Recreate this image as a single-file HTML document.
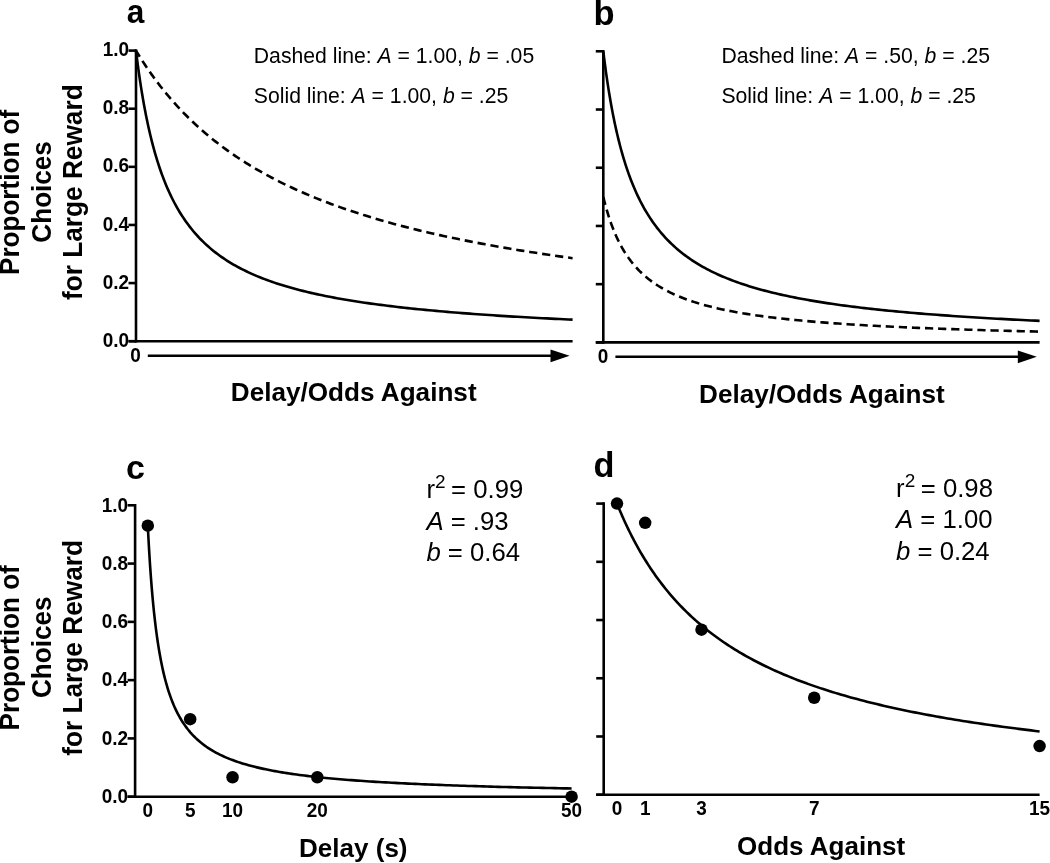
<!DOCTYPE html>
<html lang="en"><head><meta charset="utf-8"><title>Figure</title>
<style>html,body{margin:0;padding:0;background:#fff}svg{display:block}</style></head>
<body>
<svg width="1050" height="863" viewBox="0 0 1050 863" font-family="Liberation Sans, sans-serif" fill="#000">
<rect width="1050" height="863" fill="#fff"/>
<line x1="136" y1="49.300000000000004" x2="136" y2="342.5" stroke="#000" stroke-width="2.6"/>
<line x1="128.5" y1="50.6" x2="136" y2="50.6" stroke="#000" stroke-width="2.6"/>
<text transform="translate(129.0,56) scale(0.925,1)" font-size="20.5" font-weight="bold" text-anchor="end">1.0</text>
<line x1="128.5" y1="108.72" x2="136" y2="108.72" stroke="#000" stroke-width="2.6"/>
<text transform="translate(129.0,114) scale(0.925,1)" font-size="20.5" font-weight="bold" text-anchor="end">0.8</text>
<line x1="128.5" y1="166.84" x2="136" y2="166.84" stroke="#000" stroke-width="2.6"/>
<text transform="translate(129.0,172) scale(0.925,1)" font-size="20.5" font-weight="bold" text-anchor="end">0.6</text>
<line x1="128.5" y1="224.96" x2="136" y2="224.96" stroke="#000" stroke-width="2.6"/>
<text transform="translate(129.0,231) scale(0.925,1)" font-size="20.5" font-weight="bold" text-anchor="end">0.4</text>
<line x1="128.5" y1="283.08" x2="136" y2="283.08" stroke="#000" stroke-width="2.6"/>
<text transform="translate(129.0,289) scale(0.925,1)" font-size="20.5" font-weight="bold" text-anchor="end">0.2</text>
<line x1="128.5" y1="341.2" x2="136" y2="341.2" stroke="#000" stroke-width="2.6"/>
<text transform="translate(129.0,347) scale(0.925,1)" font-size="20.5" font-weight="bold" text-anchor="end">0.0</text>
<line x1="128.5" y1="341.2" x2="572.6" y2="341.2" stroke="#000" stroke-width="2.6"/>
<path d="M136.00,50.60 L136.01,50.69 L136.04,50.97 L136.10,51.42 L136.18,52.06 L136.28,52.88 L136.40,53.87 L136.54,55.03 L136.71,56.35 L136.89,57.84 L137.10,59.49 L137.33,61.29 L137.59,63.23 L137.86,65.32 L138.16,67.53 L138.48,69.87 L138.82,72.33 L139.19,74.89 L139.57,77.56 L139.98,80.33 L140.41,83.18 L140.86,86.11 L141.34,89.11 L141.83,92.18 L142.35,95.31 L142.89,98.48 L143.45,101.70 L144.04,104.96 L144.64,108.25 L145.27,111.56 L145.92,114.89 L146.60,118.23 L147.29,121.58 L148.01,124.94 L148.74,128.29 L149.51,131.63 L150.29,134.97 L151.09,138.28 L151.92,141.58 L152.77,144.86 L153.64,148.12 L154.53,151.34 L155.45,154.54 L156.39,157.70 L157.34,160.83 L158.33,163.92 L159.33,166.97 L160.35,169.98 L161.40,172.96 L162.47,175.89 L163.56,178.77 L164.68,181.62 L165.81,184.42 L166.97,187.17 L168.15,189.88 L169.35,192.54 L170.57,195.16 L171.82,197.73 L173.09,200.26 L174.38,202.74 L175.69,205.17 L177.02,207.56 L178.38,209.91 L179.76,212.21 L181.16,214.46 L182.58,216.67 L184.02,218.84 L185.49,220.97 L186.98,223.05 L188.49,225.09 L190.02,227.09 L191.58,229.05 L193.15,230.97 L194.75,232.85 L196.37,234.69 L198.02,236.50 L199.68,238.27 L201.37,240.00 L203.08,241.69 L204.81,243.35 L206.56,244.98 L208.33,246.57 L210.13,248.13 L211.95,249.66 L213.79,251.15 L215.66,252.62 L217.54,254.05 L219.45,255.46 L221.38,256.83 L223.33,258.18 L225.30,259.50 L227.30,260.79 L229.32,262.05 L231.36,263.29 L233.42,264.51 L235.50,265.69 L237.61,266.86 L239.73,268.00 L241.88,269.12 L244.06,270.21 L246.25,271.29 L248.47,272.34 L250.70,273.37 L252.96,274.38 L255.25,275.36 L257.55,276.33 L259.88,277.28 L262.22,278.22 L264.60,279.13 L266.99,280.02 L269.40,280.90 L271.84,281.76 L274.30,282.61 L276.78,283.43 L279.28,284.24 L281.81,285.04 L284.35,285.82 L286.92,286.59 L289.51,287.34 L292.12,288.07 L294.76,288.80 L297.42,289.50 L300.10,290.20 L302.80,290.88 L305.52,291.55 L308.27,292.21 L311.03,292.86 L313.82,293.49 L316.63,294.11 L319.47,294.72 L322.32,295.32 L325.20,295.91 L328.10,296.49 L331.02,297.06 L333.96,297.62 L336.93,298.17 L339.92,298.70 L342.93,299.23 L345.96,299.75 L349.01,300.26 L352.09,300.76 L355.19,301.26 L358.31,301.74 L361.45,302.22 L364.61,302.69 L367.80,303.15 L371.01,303.60 L374.24,304.04 L377.49,304.48 L380.77,304.91 L384.06,305.33 L387.38,305.75 L390.72,306.16 L394.08,306.56 L397.47,306.96 L400.88,307.34 L404.30,307.73 L407.75,308.10 L411.23,308.47 L414.72,308.84 L418.24,309.20 L421.78,309.55 L425.34,309.90 L428.92,310.24 L432.53,310.58 L436.15,310.91 L439.80,311.24 L443.48,311.56 L447.17,311.87 L450.88,312.18 L454.62,312.49 L458.38,312.79 L462.16,313.09 L465.97,313.38 L469.79,313.67 L473.64,313.96 L477.51,314.24 L481.40,314.51 L485.32,314.78 L489.25,315.05 L493.21,315.32 L497.19,315.58 L501.19,315.83 L505.22,316.08 L509.26,316.33 L513.33,316.58 L517.42,316.82 L521.53,317.06 L525.67,317.29 L529.82,317.53 L534.00,317.75 L538.20,317.98 L542.42,318.20 L546.67,318.42 L550.94,318.64 L555.22,318.85 L559.54,319.06 L563.87,319.27 L568.22,319.47 L572.60,319.67" fill="none" stroke="#000" stroke-width="2.6"/>
<path d="M136.00,50.60 L136.01,50.62 L136.04,50.67 L136.10,50.77 L136.18,50.89 L136.28,51.06 L136.40,51.26 L136.54,51.50 L136.71,51.77 L136.89,52.08 L137.10,52.42 L137.33,52.80 L137.59,53.22 L137.86,53.67 L138.16,54.15 L138.48,54.67 L138.82,55.22 L139.19,55.81 L139.57,56.42 L139.98,57.08 L140.41,57.76 L140.86,58.47 L141.34,59.22 L141.83,59.99 L142.35,60.80 L142.89,61.63 L143.45,62.49 L144.04,63.39 L144.64,64.30 L145.27,65.25 L145.92,66.22 L146.60,67.22 L147.29,68.25 L148.01,69.29 L148.74,70.36 L149.51,71.46 L150.29,72.58 L151.09,73.72 L151.92,74.88 L152.77,76.06 L153.64,77.26 L154.53,78.48 L155.45,79.72 L156.39,80.98 L157.34,82.25 L158.33,83.54 L159.33,84.84 L160.35,86.17 L161.40,87.50 L162.47,88.85 L163.56,90.21 L164.68,91.59 L165.81,92.97 L166.97,94.37 L168.15,95.78 L169.35,97.20 L170.57,98.62 L171.82,100.06 L173.09,101.50 L174.38,102.96 L175.69,104.41 L177.02,105.88 L178.38,107.35 L179.76,108.82 L181.16,110.30 L182.58,111.79 L184.02,113.28 L185.49,114.77 L186.98,116.26 L188.49,117.76 L190.02,119.26 L191.58,120.75 L193.15,122.25 L194.75,123.75 L196.37,125.25 L198.02,126.75 L199.68,128.25 L201.37,129.75 L203.08,131.24 L204.81,132.73 L206.56,134.22 L208.33,135.71 L210.13,137.20 L211.95,138.68 L213.79,140.15 L215.66,141.63 L217.54,143.10 L219.45,144.56 L221.38,146.02 L223.33,147.47 L225.30,148.92 L227.30,150.36 L229.32,151.80 L231.36,153.23 L233.42,154.66 L235.50,156.07 L237.61,157.49 L239.73,158.89 L241.88,160.29 L244.06,161.68 L246.25,163.06 L248.47,164.43 L250.70,165.80 L252.96,167.16 L255.25,168.51 L257.55,169.86 L259.88,171.19 L262.22,172.52 L264.60,173.84 L266.99,175.15 L269.40,176.45 L271.84,177.74 L274.30,179.03 L276.78,180.30 L279.28,181.57 L281.81,182.83 L284.35,184.07 L286.92,185.31 L289.51,186.54 L292.12,187.77 L294.76,188.98 L297.42,190.18 L300.10,191.38 L302.80,192.56 L305.52,193.74 L308.27,194.91 L311.03,196.06 L313.82,197.21 L316.63,198.35 L319.47,199.48 L322.32,200.60 L325.20,201.71 L328.10,202.82 L331.02,203.91 L333.96,205.00 L336.93,206.07 L339.92,207.14 L342.93,208.20 L345.96,209.24 L349.01,210.28 L352.09,211.31 L355.19,212.34 L358.31,213.35 L361.45,214.35 L364.61,215.35 L367.80,216.33 L371.01,217.31 L374.24,218.28 L377.49,219.24 L380.77,220.19 L384.06,221.14 L387.38,222.07 L390.72,223.00 L394.08,223.92 L397.47,224.83 L400.88,225.73 L404.30,226.62 L407.75,227.51 L411.23,228.39 L414.72,229.26 L418.24,230.12 L421.78,230.97 L425.34,231.82 L428.92,232.66 L432.53,233.49 L436.15,234.31 L439.80,235.13 L443.48,235.93 L447.17,236.73 L450.88,237.53 L454.62,238.31 L458.38,239.09 L462.16,239.86 L465.97,240.63 L469.79,241.38 L473.64,242.13 L477.51,242.88 L481.40,243.61 L485.32,244.34 L489.25,245.06 L493.21,245.78 L497.19,246.49 L501.19,247.19 L505.22,247.88 L509.26,248.57 L513.33,249.26 L517.42,249.93 L521.53,250.60 L525.67,251.27 L529.82,251.92 L534.00,252.57 L538.20,253.22 L542.42,253.86 L546.67,254.49 L550.94,255.12 L555.22,255.74 L559.54,256.36 L563.87,256.97 L568.22,257.57 L572.60,258.17" fill="none" stroke="#000" stroke-width="2.6" stroke-dasharray="8.2,4.9" stroke-dashoffset="1.0"/>
<line x1="147.8" y1="355.8" x2="552" y2="355.8" stroke="#000" stroke-width="2.6"/>
<polygon points="550.5,349.4 569.6,355.8 550.5,362.2"/>
<text transform="translate(135.6,362) scale(0.925,1)" font-size="20.5" font-weight="bold" text-anchor="middle">0</text>
<text transform="translate(126.7,23) scale(0.93,1)" font-size="34" font-weight="bold" text-anchor="start">a</text>
<text x="253.8" y="63" font-size="21.2" font-weight="normal" text-anchor="start">Dashed line: <tspan font-style="italic">A</tspan> = 1.00, <tspan font-style="italic">b</tspan> = .05</text>
<text x="253.8" y="103" font-size="21.2" font-weight="normal" text-anchor="start">Solid line: <tspan font-style="italic">A</tspan> = 1.00, <tspan font-style="italic">b</tspan> = .25</text>
<text transform="translate(353.7,401) scale(0.99,1)" font-size="26.4" font-weight="bold" text-anchor="middle">Delay/Odds Against</text>
<text transform="translate(19.0,192.4) rotate(-90) scale(0.96,1)" font-size="27.19" font-weight="bold" text-anchor="middle">Proportion of</text>
<text transform="translate(50.8,191.9) rotate(-90) scale(0.96,1)" font-size="27.19" font-weight="bold" text-anchor="middle">Choices</text>
<text transform="translate(82.0,192.2) rotate(-90) scale(0.96,1)" font-size="27.34" font-weight="bold" text-anchor="middle">for Large Reward</text>
<line x1="603.3" y1="50.0" x2="603.3" y2="343.7" stroke="#000" stroke-width="2.6"/>
<line x1="595.8" y1="51.3" x2="603.3" y2="51.3" stroke="#000" stroke-width="2.6"/>
<line x1="595.8" y1="109.52" x2="603.3" y2="109.52" stroke="#000" stroke-width="2.6"/>
<line x1="595.8" y1="167.74" x2="603.3" y2="167.74" stroke="#000" stroke-width="2.6"/>
<line x1="595.8" y1="225.96" x2="603.3" y2="225.96" stroke="#000" stroke-width="2.6"/>
<line x1="595.8" y1="284.18" x2="603.3" y2="284.18" stroke="#000" stroke-width="2.6"/>
<line x1="595.8" y1="342.4" x2="603.3" y2="342.4" stroke="#000" stroke-width="2.6"/>
<line x1="595.8" y1="342.4" x2="1039.6" y2="342.4" stroke="#000" stroke-width="2.6"/>
<path d="M603.30,51.30 L603.31,51.39 L603.34,51.67 L603.40,52.12 L603.48,52.76 L603.58,53.58 L603.70,54.57 L603.84,55.73 L604.01,57.06 L604.19,58.56 L604.40,60.21 L604.63,62.01 L604.89,63.96 L605.16,66.04 L605.46,68.26 L605.78,70.60 L606.12,73.06 L606.48,75.63 L606.87,78.31 L607.28,81.08 L607.71,83.93 L608.16,86.87 L608.63,89.88 L609.13,92.95 L609.65,96.08 L610.19,99.27 L610.75,102.49 L611.33,105.75 L611.94,109.05 L612.57,112.37 L613.22,115.70 L613.89,119.05 L614.58,122.41 L615.30,125.77 L616.04,129.12 L616.80,132.47 L617.58,135.81 L618.38,139.14 L619.21,142.44 L620.06,145.72 L620.93,148.98 L621.82,152.21 L622.73,155.41 L623.67,158.58 L624.63,161.72 L625.61,164.81 L626.61,167.87 L627.64,170.89 L628.68,173.87 L629.75,176.80 L630.84,179.69 L631.96,182.54 L633.09,185.35 L634.25,188.11 L635.43,190.82 L636.63,193.49 L637.85,196.11 L639.10,198.69 L640.36,201.22 L641.65,203.70 L642.96,206.14 L644.30,208.53 L645.65,210.88 L647.03,213.18 L648.43,215.44 L649.85,217.66 L651.29,219.83 L652.76,221.96 L654.24,224.05 L655.75,226.09 L657.29,228.09 L658.84,230.06 L660.41,231.98 L662.01,233.87 L663.63,235.71 L665.27,237.52 L666.94,239.29 L668.62,241.02 L670.33,242.72 L672.06,244.39 L673.81,246.01 L675.59,247.61 L677.38,249.17 L679.20,250.70 L681.04,252.20 L682.90,253.67 L684.78,255.10 L686.69,256.51 L688.62,257.89 L690.57,259.23 L692.54,260.56 L694.54,261.85 L696.55,263.12 L698.59,264.36 L700.65,265.57 L702.73,266.76 L704.84,267.93 L706.96,269.07 L709.11,270.19 L711.28,271.29 L713.47,272.36 L715.69,273.42 L717.93,274.45 L720.18,275.46 L722.46,276.45 L724.77,277.42 L727.09,278.37 L729.44,279.31 L731.81,280.22 L734.20,281.12 L736.61,282.00 L739.05,282.86 L741.50,283.70 L743.98,284.53 L746.48,285.35 L749.01,286.14 L751.55,286.92 L754.12,287.69 L756.71,288.44 L759.32,289.18 L761.95,289.91 L764.61,290.62 L767.28,291.31 L769.98,292.00 L772.70,292.67 L775.45,293.33 L778.21,293.97 L781.00,294.61 L783.81,295.23 L786.64,295.84 L789.49,296.45 L792.37,297.04 L795.27,297.61 L798.19,298.18 L801.13,298.74 L804.09,299.29 L807.08,299.83 L810.09,300.36 L813.12,300.88 L816.17,301.39 L819.24,301.89 L822.34,302.39 L825.45,302.87 L828.59,303.35 L831.76,303.82 L834.94,304.28 L838.15,304.73 L841.37,305.18 L844.63,305.62 L847.90,306.05 L851.19,306.47 L854.51,306.89 L857.85,307.30 L861.21,307.70 L864.59,308.10 L867.99,308.49 L871.42,308.87 L874.87,309.25 L878.34,309.62 L881.83,309.98 L885.35,310.34 L888.88,310.70 L892.44,311.04 L896.02,311.39 L899.62,311.72 L903.25,312.06 L906.90,312.38 L910.56,312.71 L914.26,313.02 L917.97,313.33 L921.70,313.64 L925.46,313.94 L929.24,314.24 L933.04,314.54 L936.86,314.82 L940.71,315.11 L944.57,315.39 L948.46,315.67 L952.38,315.94 L956.31,316.21 L960.26,316.47 L964.24,316.73 L968.24,316.99 L972.26,317.24 L976.31,317.49 L980.37,317.74 L984.46,317.98 L988.57,318.22 L992.70,318.45 L996.85,318.69 L1001.03,318.91 L1005.23,319.14 L1009.45,319.36 L1013.69,319.58 L1017.95,319.80 L1022.24,320.01 L1026.54,320.22 L1030.87,320.43 L1035.23,320.64 L1039.60,320.84" fill="none" stroke="#000" stroke-width="2.6"/>
<path d="M603.30,196.85 L603.31,196.90 L603.34,197.03 L603.40,197.26 L603.48,197.58 L603.58,197.99 L603.70,198.49 L603.84,199.07 L604.01,199.73 L604.19,200.48 L604.40,201.30 L604.63,202.20 L604.89,203.18 L605.16,204.22 L605.46,205.33 L605.78,206.50 L606.12,207.73 L606.48,209.02 L606.87,210.35 L607.28,211.74 L607.71,213.17 L608.16,214.64 L608.63,216.14 L609.13,217.68 L609.65,219.24 L610.19,220.83 L610.75,222.45 L611.33,224.08 L611.94,225.72 L612.57,227.38 L613.22,229.05 L613.89,230.73 L614.58,232.40 L615.30,234.08 L616.04,235.76 L616.80,237.44 L617.58,239.11 L618.38,240.77 L619.21,242.42 L620.06,244.06 L620.93,245.69 L621.82,247.31 L622.73,248.91 L623.67,250.49 L624.63,252.06 L625.61,253.61 L626.61,255.14 L627.64,256.64 L628.68,258.13 L629.75,259.60 L630.84,261.05 L631.96,262.47 L633.09,263.87 L634.25,265.25 L635.43,266.61 L636.63,267.94 L637.85,269.25 L639.10,270.54 L640.36,271.81 L641.65,273.05 L642.96,274.27 L644.30,275.47 L645.65,276.64 L647.03,277.79 L648.43,278.92 L649.85,280.03 L651.29,281.11 L652.76,282.18 L654.24,283.22 L655.75,284.25 L657.29,285.25 L658.84,286.23 L660.41,287.19 L662.01,288.13 L663.63,289.06 L665.27,289.96 L666.94,290.84 L668.62,291.71 L670.33,292.56 L672.06,293.39 L673.81,294.21 L675.59,295.00 L677.38,295.79 L679.20,296.55 L681.04,297.30 L682.90,298.03 L684.78,298.75 L686.69,299.45 L688.62,300.14 L690.57,300.82 L692.54,301.48 L694.54,302.12 L696.55,302.76 L698.59,303.38 L700.65,303.99 L702.73,304.58 L704.84,305.17 L706.96,305.74 L709.11,306.30 L711.28,306.85 L713.47,307.38 L715.69,307.91 L717.93,308.42 L720.18,308.93 L722.46,309.43 L724.77,309.91 L727.09,310.39 L729.44,310.85 L731.81,311.31 L734.20,311.76 L736.61,312.20 L739.05,312.63 L741.50,313.05 L743.98,313.47 L746.48,313.87 L749.01,314.27 L751.55,314.66 L754.12,315.05 L756.71,315.42 L759.32,315.79 L761.95,316.15 L764.61,316.51 L767.28,316.86 L769.98,317.20 L772.70,317.53 L775.45,317.86 L778.21,318.19 L781.00,318.50 L783.81,318.82 L786.64,319.12 L789.49,319.42 L792.37,319.72 L795.27,320.01 L798.19,320.29 L801.13,320.57 L804.09,320.85 L807.08,321.12 L810.09,321.38 L813.12,321.64 L816.17,321.90 L819.24,322.15 L822.34,322.39 L825.45,322.64 L828.59,322.88 L831.76,323.11 L834.94,323.34 L838.15,323.57 L841.37,323.79 L844.63,324.01 L847.90,324.22 L851.19,324.44 L854.51,324.64 L857.85,324.85 L861.21,325.05 L864.59,325.25 L867.99,325.44 L871.42,325.63 L874.87,325.82 L878.34,326.01 L881.83,326.19 L885.35,326.37 L888.88,326.55 L892.44,326.72 L896.02,326.89 L899.62,327.06 L903.25,327.23 L906.90,327.39 L910.56,327.55 L914.26,327.71 L917.97,327.87 L921.70,328.02 L925.46,328.17 L929.24,328.32 L933.04,328.47 L936.86,328.61 L940.71,328.75 L944.57,328.90 L948.46,329.03 L952.38,329.17 L956.31,329.30 L960.26,329.44 L964.24,329.57 L968.24,329.69 L972.26,329.82 L976.31,329.95 L980.37,330.07 L984.46,330.19 L988.57,330.31 L992.70,330.43 L996.85,330.54 L1001.03,330.66 L1005.23,330.77 L1009.45,330.88 L1013.69,330.99 L1017.95,331.10 L1022.24,331.21 L1026.54,331.31 L1030.87,331.42 L1035.23,331.52 L1039.60,331.62" fill="none" stroke="#000" stroke-width="2.6" stroke-dasharray="8.2,4.9" stroke-dashoffset="0"/>
<line x1="615.4" y1="356.8" x2="1019" y2="356.8" stroke="#000" stroke-width="2.6"/>
<polygon points="1017.8,350.4 1036.8,356.8 1017.8,363.2"/>
<text transform="translate(603,363) scale(0.925,1)" font-size="20.5" font-weight="bold" text-anchor="middle">0</text>
<text x="593.5" y="25" font-size="34.5" font-weight="bold" text-anchor="start">b</text>
<text x="721.4" y="63" font-size="21.2" font-weight="normal" text-anchor="start">Dashed line: <tspan font-style="italic">A</tspan> = .50, <tspan font-style="italic">b</tspan> = .25</text>
<text x="721.4" y="103" font-size="21.2" font-weight="normal" text-anchor="start">Solid line: <tspan font-style="italic">A</tspan> = 1.00, <tspan font-style="italic">b</tspan> = .25</text>
<text transform="translate(821.9,403) scale(0.99,1)" font-size="26.4" font-weight="bold" text-anchor="middle">Delay/Odds Against</text>
<line x1="135.1" y1="504.0" x2="135.1" y2="798.0" stroke="#000" stroke-width="2.6"/>
<line x1="127.6" y1="505.3" x2="135.1" y2="505.3" stroke="#000" stroke-width="2.6"/>
<text transform="translate(128.1,512) scale(0.925,1)" font-size="20.5" font-weight="bold" text-anchor="end">1.0</text>
<line x1="127.6" y1="563.58" x2="135.1" y2="563.58" stroke="#000" stroke-width="2.6"/>
<text transform="translate(128.1,570) scale(0.925,1)" font-size="20.5" font-weight="bold" text-anchor="end">0.8</text>
<line x1="127.6" y1="621.86" x2="135.1" y2="621.86" stroke="#000" stroke-width="2.6"/>
<text transform="translate(128.1,628) scale(0.925,1)" font-size="20.5" font-weight="bold" text-anchor="end">0.6</text>
<line x1="127.6" y1="680.14" x2="135.1" y2="680.14" stroke="#000" stroke-width="2.6"/>
<text transform="translate(128.1,686) scale(0.925,1)" font-size="20.5" font-weight="bold" text-anchor="end">0.4</text>
<line x1="127.6" y1="738.42" x2="135.1" y2="738.42" stroke="#000" stroke-width="2.6"/>
<text transform="translate(128.1,745) scale(0.925,1)" font-size="20.5" font-weight="bold" text-anchor="end">0.2</text>
<line x1="127.6" y1="796.7" x2="135.1" y2="796.7" stroke="#000" stroke-width="2.6"/>
<text transform="translate(128.1,803) scale(0.925,1)" font-size="20.5" font-weight="bold" text-anchor="end">0.0</text>
<line x1="127.6" y1="796.7" x2="571.6" y2="796.7" stroke="#000" stroke-width="2.6"/>
<path d="M147.80,525.70 L147.81,525.92 L147.84,526.57 L147.90,527.65 L147.97,529.16 L148.07,531.06 L148.19,533.36 L148.32,536.02 L148.48,539.02 L148.67,542.35 L148.87,545.96 L149.09,549.84 L149.34,553.95 L149.61,558.26 L149.90,562.75 L150.21,567.39 L150.54,572.15 L150.89,577.00 L151.27,581.93 L151.66,586.90 L152.08,591.90 L152.52,596.90 L152.98,601.89 L153.46,606.85 L153.96,611.77 L154.49,616.64 L155.03,621.44 L155.60,626.16 L156.19,630.80 L156.80,635.35 L157.43,639.80 L158.08,644.16 L158.76,648.41 L159.45,652.55 L160.17,656.58 L160.91,660.51 L161.67,664.33 L162.45,668.03 L163.25,671.63 L164.08,675.12 L164.92,678.51 L165.79,681.79 L166.68,684.97 L167.59,688.04 L168.52,691.02 L169.47,693.90 L170.44,696.69 L171.44,699.39 L172.46,702.00 L173.49,704.53 L174.55,706.97 L175.64,709.33 L176.74,711.61 L177.86,713.82 L179.01,715.96 L180.17,718.02 L181.36,720.02 L182.57,721.95 L183.80,723.82 L185.05,725.62 L186.33,727.37 L187.62,729.06 L188.94,730.70 L190.28,732.29 L191.63,733.82 L193.01,735.30 L194.42,736.74 L195.84,738.14 L197.28,739.48 L198.75,740.79 L200.24,742.06 L201.75,743.28 L203.28,744.47 L204.83,745.63 L206.40,746.75 L208.00,747.83 L209.61,748.88 L211.25,749.90 L212.91,750.89 L214.59,751.86 L216.29,752.79 L218.01,753.70 L219.76,754.58 L221.52,755.43 L223.31,756.26 L225.12,757.07 L226.95,757.85 L228.80,758.62 L230.67,759.36 L232.57,760.08 L234.48,760.78 L236.42,761.47 L238.38,762.13 L240.36,762.78 L242.36,763.41 L244.38,764.02 L246.43,764.62 L248.49,765.20 L250.58,765.77 L252.69,766.32 L254.82,766.86 L256.97,767.38 L259.14,767.89 L261.33,768.39 L263.55,768.88 L265.79,769.35 L268.04,769.81 L270.32,770.26 L272.63,770.71 L274.95,771.14 L277.29,771.55 L279.66,771.96 L282.04,772.37 L284.45,772.76 L286.88,773.14 L289.33,773.51 L291.80,773.88 L294.30,774.23 L296.81,774.58 L299.35,774.92 L301.91,775.25 L304.48,775.58 L307.08,775.90 L309.71,776.21 L312.35,776.51 L315.01,776.81 L317.70,777.10 L320.41,777.39 L323.14,777.67 L325.89,777.94 L328.66,778.21 L331.45,778.47 L334.27,778.73 L337.10,778.98 L339.96,779.23 L342.84,779.47 L345.74,779.70 L348.66,779.94 L351.60,780.16 L354.57,780.39 L357.55,780.61 L360.56,780.82 L363.59,781.03 L366.64,781.24 L369.71,781.44 L372.80,781.64 L375.92,781.83 L379.05,782.02 L382.21,782.21 L385.39,782.39 L388.59,782.57 L391.81,782.75 L395.05,782.92 L398.32,783.09 L401.60,783.26 L404.91,783.42 L408.24,783.59 L411.59,783.74 L414.96,783.90 L418.35,784.05 L421.76,784.20 L425.20,784.35 L428.66,784.50 L432.13,784.64 L435.63,784.78 L439.16,784.92 L442.70,785.05 L446.26,785.19 L449.85,785.32 L453.45,785.45 L457.08,785.57 L460.73,785.70 L464.40,785.82 L468.09,785.94 L471.81,786.06 L475.54,786.17 L479.30,786.29 L483.08,786.40 L486.87,786.51 L490.69,786.62 L494.54,786.73 L498.40,786.84 L502.28,786.94 L506.19,787.04 L510.12,787.14 L514.07,787.24 L518.04,787.34 L522.03,787.44 L526.04,787.53 L530.08,787.63 L534.13,787.72 L538.21,787.81 L542.31,787.90 L546.43,787.99 L550.57,788.07 L554.73,788.16 L558.92,788.24 L563.12,788.33 L567.35,788.41 L571.60,788.49" fill="none" stroke="#000" stroke-width="2.6"/>
<circle cx="147.80" cy="525.70" r="6.25"/>
<text transform="translate(147.8,817) scale(0.925,1)" font-size="20.5" font-weight="bold" text-anchor="middle">0</text>
<circle cx="190.18" cy="719.19" r="6.25"/>
<text transform="translate(190.18,817) scale(0.925,1)" font-size="20.5" font-weight="bold" text-anchor="middle">5</text>
<circle cx="232.56" cy="777.29" r="6.25"/>
<text transform="translate(232.56,817) scale(0.925,1)" font-size="20.5" font-weight="bold" text-anchor="middle">10</text>
<circle cx="317.32" cy="777.29" r="6.25"/>
<text transform="translate(317.32,817) scale(0.925,1)" font-size="20.5" font-weight="bold" text-anchor="middle">20</text>
<circle cx="571.60" cy="796.70" r="6.25"/>
<text transform="translate(571.6,817) scale(0.925,1)" font-size="20.5" font-weight="bold" text-anchor="middle">50</text>
<text x="126" y="479" font-size="34" font-weight="bold" text-anchor="start">c</text>
<text x="426.4" y="498" font-size="25.7" font-weight="normal" text-anchor="start">r<tspan font-size="19" dy="-10">2</tspan><tspan dy="10" dx="-1.6"> </tspan>= 0.99</text>
<text x="426.4" y="530" font-size="25.7" font-weight="normal" text-anchor="start"><tspan font-style="italic">A</tspan> = .93</text>
<text x="426.4" y="561" font-size="25.7" font-weight="normal" text-anchor="start"><tspan font-style="italic">b</tspan> = 0.64</text>
<text transform="translate(353.3,857) scale(0.99,1)" font-size="26.3" font-weight="bold" text-anchor="middle">Delay (s)</text>
<text transform="translate(19.0,647.8) rotate(-90) scale(0.96,1)" font-size="27.19" font-weight="bold" text-anchor="middle">Proportion of</text>
<text transform="translate(50.8,647.3) rotate(-90) scale(0.96,1)" font-size="27.19" font-weight="bold" text-anchor="middle">Choices</text>
<text transform="translate(82.0,647.9) rotate(-90) scale(0.96,1)" font-size="27.34" font-weight="bold" text-anchor="middle">for Large Reward</text>
<line x1="603.7" y1="502.3" x2="603.7" y2="796.0" stroke="#000" stroke-width="2.6"/>
<line x1="596.2" y1="503.6" x2="603.7" y2="503.6" stroke="#000" stroke-width="2.6"/>
<line x1="596.2" y1="561.82" x2="603.7" y2="561.82" stroke="#000" stroke-width="2.6"/>
<line x1="596.2" y1="620.04" x2="603.7" y2="620.04" stroke="#000" stroke-width="2.6"/>
<line x1="596.2" y1="678.26" x2="603.7" y2="678.26" stroke="#000" stroke-width="2.6"/>
<line x1="596.2" y1="736.48" x2="603.7" y2="736.48" stroke="#000" stroke-width="2.6"/>
<line x1="596.2" y1="794.7" x2="603.7" y2="794.7" stroke="#000" stroke-width="2.6"/>
<line x1="596.2" y1="794.7" x2="1039.6" y2="794.7" stroke="#000" stroke-width="2.6"/>
<path d="M617.00,503.60 L617.01,503.63 L617.04,503.71 L617.10,503.84 L617.17,504.02 L617.27,504.26 L617.38,504.55 L617.52,504.89 L617.68,505.28 L617.86,505.73 L618.07,506.22 L618.29,506.77 L618.54,507.36 L618.80,508.00 L619.09,508.70 L619.40,509.43 L619.73,510.22 L620.08,511.05 L620.46,511.93 L620.85,512.85 L621.27,513.81 L621.71,514.82 L622.16,515.87 L622.65,516.96 L623.15,518.08 L623.67,519.25 L624.21,520.45 L624.78,521.69 L625.37,522.97 L625.97,524.27 L626.60,525.62 L627.26,526.99 L627.93,528.39 L628.62,529.82 L629.34,531.28 L630.07,532.77 L630.83,534.28 L631.61,535.82 L632.41,537.38 L633.23,538.96 L634.07,540.56 L634.94,542.19 L635.82,543.83 L636.73,545.49 L637.66,547.17 L638.61,548.86 L639.58,550.56 L640.57,552.28 L641.59,554.01 L642.62,555.75 L643.68,557.51 L644.76,559.27 L645.86,561.04 L646.98,562.81 L648.12,564.60 L649.28,566.39 L650.47,568.18 L651.67,569.97 L652.90,571.77 L654.15,573.57 L655.42,575.38 L656.71,577.18 L658.02,578.98 L659.35,580.78 L660.71,582.58 L662.09,584.38 L663.48,586.17 L664.90,587.96 L666.34,589.75 L667.81,591.53 L669.29,593.31 L670.79,595.08 L672.32,596.84 L673.87,598.60 L675.44,600.35 L677.03,602.09 L678.64,603.82 L680.27,605.55 L681.93,607.27 L683.60,608.97 L685.30,610.67 L687.02,612.36 L688.75,614.03 L690.52,615.70 L692.30,617.36 L694.10,619.00 L695.93,620.63 L697.77,622.25 L699.64,623.86 L701.53,625.46 L703.44,627.05 L705.37,628.62 L707.32,630.18 L709.30,631.73 L711.29,633.27 L713.31,634.79 L715.35,636.30 L717.41,637.80 L719.49,639.29 L721.59,640.76 L723.71,642.22 L725.86,643.66 L728.03,645.10 L730.21,646.51 L732.42,647.92 L734.65,649.31 L736.90,650.69 L739.18,652.06 L741.47,653.41 L743.79,654.75 L746.12,656.08 L748.48,657.39 L750.86,658.69 L753.26,659.98 L755.69,661.26 L758.13,662.52 L760.60,663.77 L763.08,665.00 L765.59,666.22 L768.12,667.43 L770.67,668.63 L773.24,669.82 L775.83,670.99 L778.45,672.15 L781.08,673.30 L783.74,674.43 L786.42,675.55 L789.12,676.67 L791.84,677.76 L794.58,678.85 L797.35,679.93 L800.13,680.99 L802.94,682.04 L805.77,683.08 L808.62,684.11 L811.49,685.13 L814.38,686.14 L817.29,687.13 L820.23,688.12 L823.18,689.09 L826.16,690.05 L829.16,691.01 L832.18,691.95 L835.22,692.88 L838.28,693.80 L841.37,694.71 L844.47,695.61 L847.60,696.50 L850.75,697.38 L853.92,698.25 L857.11,699.11 L860.32,699.96 L863.55,700.81 L866.81,701.64 L870.08,702.46 L873.38,703.28 L876.70,704.08 L880.04,704.88 L883.40,705.66 L886.78,706.44 L890.19,707.21 L893.61,707.97 L897.06,708.72 L900.53,709.47 L904.02,710.20 L907.53,710.93 L911.06,711.65 L914.62,712.36 L918.19,713.06 L921.79,713.76 L925.40,714.45 L929.04,715.13 L932.70,715.80 L936.39,716.46 L940.09,717.12 L943.81,717.77 L947.56,718.41 L951.33,719.05 L955.11,719.68 L958.92,720.30 L962.75,720.92 L966.61,721.53 L970.48,722.13 L974.38,722.72 L978.29,723.31 L982.23,723.89 L986.19,724.47 L990.17,725.04 L994.17,725.60 L998.19,726.16 L1002.24,726.71 L1006.31,727.26 L1010.39,727.80 L1014.50,728.33 L1018.63,728.86 L1022.78,729.38 L1026.95,729.90 L1031.15,730.41 L1035.36,730.92 L1039.60,731.42" fill="none" stroke="#000" stroke-width="2.6"/>
<circle cx="617.00" cy="503.60" r="6.25"/>
<text transform="translate(617.0,815) scale(0.925,1)" font-size="20.5" font-weight="bold" text-anchor="middle">0</text>
<circle cx="645.17" cy="522.81" r="6.25"/>
<text transform="translate(645.17,815) scale(0.925,1)" font-size="20.5" font-weight="bold" text-anchor="middle">1</text>
<circle cx="701.52" cy="629.65" r="6.25"/>
<text transform="translate(701.52,815) scale(0.925,1)" font-size="20.5" font-weight="bold" text-anchor="middle">3</text>
<circle cx="814.21" cy="697.76" r="6.25"/>
<text transform="translate(814.21,815) scale(0.925,1)" font-size="20.5" font-weight="bold" text-anchor="middle">7</text>
<circle cx="1039.60" cy="746.09" r="6.25"/>
<text transform="translate(1039.6,815) scale(0.925,1)" font-size="20.5" font-weight="bold" text-anchor="middle">15</text>
<text x="593.4" y="477" font-size="34.3" font-weight="bold" text-anchor="start">d</text>
<text x="896.1" y="497" font-size="25.7" font-weight="normal" text-anchor="start">r<tspan font-size="19" dy="-10">2</tspan><tspan dy="10" dx="-1.6"> </tspan>= 0.98</text>
<text x="896.1" y="528" font-size="25.7" font-weight="normal" text-anchor="start"><tspan font-style="italic">A</tspan> = 1.00</text>
<text x="896.1" y="560" font-size="25.7" font-weight="normal" text-anchor="start"><tspan font-style="italic">b</tspan> = 0.24</text>
<text transform="translate(821.1,855) scale(0.99,1)" font-size="26.3" font-weight="bold" text-anchor="middle">Odds Against</text>
</svg>
</body></html>
